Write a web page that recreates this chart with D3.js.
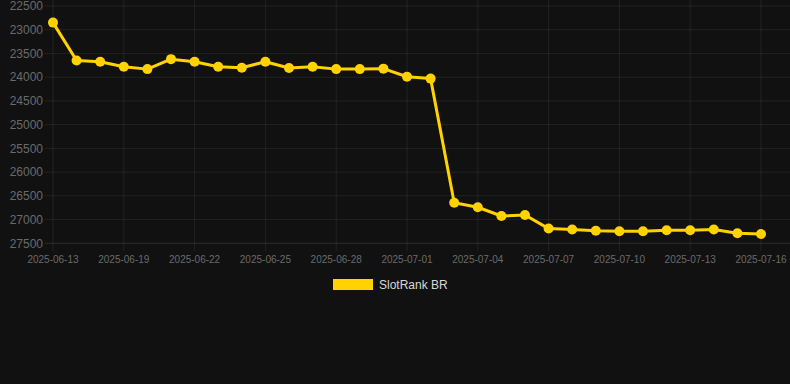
<!DOCTYPE html>
<html>
<head>
<meta charset="utf-8">
<script src="https://cdn.jsdelivr.net/npm/d3@7"></script>
<style>
  html, body { margin: 0; padding: 0; background: #111111; }
  svg { display: block; font-family: "Liberation Sans", Arial, Helvetica, sans-serif; }
</style>
</head>
<body>
<svg id="chart" width="790" height="384"></svg>
<script>
// data
const dates = [
    "2025-06-13", "2025-06-17", "2025-06-18", "2025-06-19", "2025-06-20", "2025-06-21",
    "2025-06-22", "2025-06-23", "2025-06-24", "2025-06-25", "2025-06-26", "2025-06-27",
    "2025-06-28", "2025-06-29", "2025-06-30", "2025-07-01", "2025-07-02", "2025-07-03",
    "2025-07-04", "2025-07-05", "2025-07-06", "2025-07-07", "2025-07-08", "2025-07-09",
    "2025-07-10", "2025-07-11", "2025-07-12", "2025-07-13", "2025-07-14", "2025-07-15",
    "2025-07-16"
];
const rankValues = [
    22850, 23650, 23675, 23780, 23830, 23620,
    23675, 23780, 23800, 23675, 23805, 23780,
    23830, 23830, 23820, 23990, 24030, 26645,
    26740, 26925, 26905, 27190, 27210, 27235,
    27245, 27245, 27225, 27225, 27210, 27290,
    27305
];
const yTicks = [22500, 23000, 23500, 24000, 24500, 25000, 25500, 26000, 26500, 27000, 27500];
const seriesName = "SlotRank BR";

const lineColor = "#ffd200";
const gridColor = "rgba(255,255,255,0.07)";
const tickColor = "#6b6b6b";

function drawChart() {
    const svg = d3.select("#chart");
    const left = 53, right = 790, top = 6, bottom = 243.3;

    const x = d3.scalePoint().domain(dates).range([left, 761]);
    const y = d3.scaleLinear().domain([22500, 27500]).range([top, bottom]);

    // every third date gets a label and a vertical gridline
    const labelled = dates.filter((d, i) => i % 3 === 0);

    // horizontal gridlines (with little tick stubs to the left)
    svg.append("g")
        .selectAll("line")
        .data(yTicks)
        .enter()
        .append("line")
        .attr("x1", left - 8)
        .attr("x2", right)
        .attr("y1", (d) => y(d))
        .attr("y2", (d) => y(d))
        .attr("stroke", (d) => d === 27500 ? "rgba(255,255,255,0.12)" : gridColor)
        .attr("stroke-width", 1);

    // vertical gridlines
    svg.append("g")
        .selectAll("line")
        .data(labelled)
        .enter()
        .append("line")
        .attr("x1", (d) => x(d))
        .attr("x2", (d) => x(d))
        .attr("y1", 0)
        .attr("y2", bottom + 8)
        .attr("stroke", gridColor)
        .attr("stroke-width", 1);

    // y tick labels
    svg.append("g")
        .selectAll("text")
        .data(yTicks)
        .enter()
        .append("text")
        .attr("x", 43)
        .attr("y", (d) => y(d))
        .attr("dy", "0.35em")
        .attr("text-anchor", "end")
        .attr("font-size", 12)
        .attr("fill", tickColor)
        .text((d) => d);

    // x tick labels
    svg.append("g")
        .selectAll("text")
        .data(labelled)
        .enter()
        .append("text")
        .attr("x", (d) => x(d))
        .attr("y", 259)
        .attr("dy", "0.35em")
        .attr("text-anchor", "middle")
        .attr("font-size", 10)
        .attr("fill", tickColor)
        .text((d) => d);

    const points = dates.map((d, i) => [x(d), y(rankValues[i])]);

    // the line
    svg.append("path")
        .attr("d", d3.line()(points))
        .attr("fill", "none")
        .attr("stroke", lineColor)
        .attr("stroke-width", 3)
        .attr("stroke-linejoin", "round");

    // markers
    svg.append("g")
        .selectAll("circle")
        .data(points)
        .enter()
        .append("circle")
        .attr("cx", (d) => d[0])
        .attr("cy", (d) => d[1])
        .attr("r", 5)
        .attr("fill", lineColor);

    // legend
    const legend = svg.append("g").attr("transform", "translate(333,279)");
    legend.append("rect")
        .attr("x", 0.5)
        .attr("y", 0.5)
        .attr("width", 39)
        .attr("height", 10)
        .attr("fill", lineColor)
        .attr("stroke", lineColor);
    legend.append("text")
        .attr("x", 46)
        .attr("y", 6)
        .attr("dy", "0.35em")
        .attr("font-size", 12)
        .attr("fill", "#d8d8d8")
        .text(seriesName);
}

drawChart();
</script>
</body>
</html>
